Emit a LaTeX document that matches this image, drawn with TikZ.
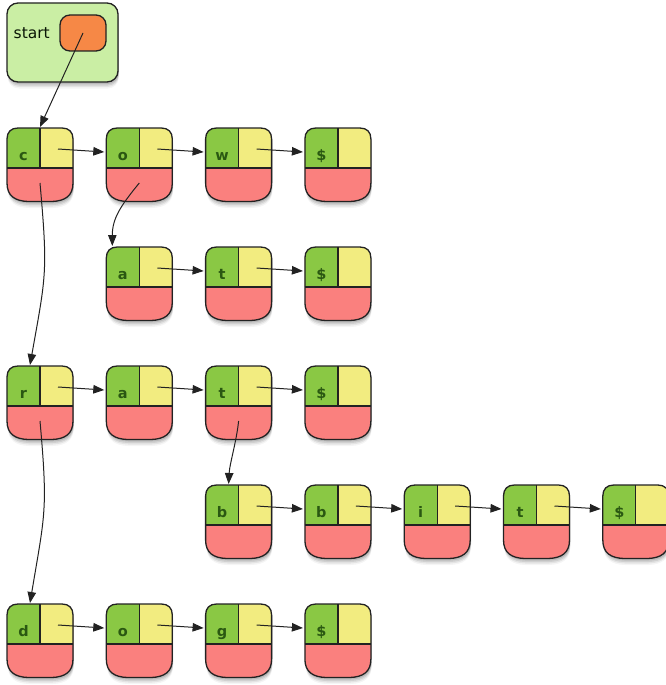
\documentclass[tikz,border=0pt]{standalone}
\usepackage{fontspec}
\usetikzlibrary{arrows.meta}
\newfontfamily\cellfont{DejaVu Sans}
\definecolor{cgreen}{RGB}{138,200,68}
\definecolor{cyellow}{RGB}{242,236,128}
\definecolor{cred}{RGB}{250,128,126}
\definecolor{cstart}{RGB}{202,238,164}
\definecolor{corange}{RGB}{246,136,70}
\definecolor{ctext}{RGB}{42,88,18}
\definecolor{cline}{RGB}{34,34,34}
\newcommand\cellpath{(0,55) -- (0,11) .. controls (0,4) and (4,0) .. (11,0) -- (55,0) .. controls (62,0) and (66,4) .. (66,11) -- (66,55) .. controls (66,68) and (58,73) .. (45,73.5) -- (21,73.5) .. controls (8,73) and (0,68) .. cycle}
\tikzset{
  cellline/.style={draw=cline, line width=1.3pt},
  celltext/.style={font=\cellfont\bfseries\fontsize{14.5}{14.5}\selectfont, text=ctext, anchor=base, inner sep=0pt},
  link/.style={draw=cline, line width=1pt, -{Triangle[length=11pt,width=8.5pt]}},
  cell/.pic={
    \foreach \s/\o in {2/0.10,3.5/0.09,5/0.07,6.5/0.04}{
      \fill[black, opacity=\o, shift={(0.8,\s)}] \cellpath;
    }
    \begin{scope}
      \clip \cellpath;
      \fill[cred] (-1,-1) rectangle (67,75);
      \fill[cgreen] (-1,-1) rectangle (33,40);
      \fill[cyellow] (33,-1) rectangle (67,40);
    \end{scope}
    \draw[cellline] (0,40) -- (66,40) (33,0) -- (33,40);
    \draw[cellline] \cellpath;
    \node[celltext] (-l) at (16.5,32) {#1};
    \coordinate (-y) at (51,21);
    \coordinate (-r) at (33,55);
    \coordinate (-in) at (-2,24);
    \coordinate (-top) at (23,-1);
    \coordinate (-tl) at (6,-1);
    \coordinate (-n) at (33,-1);
  },
  startbox/.style={draw=cline, line width=1.3pt, fill=cstart, rounded corners=11pt, minimum width=111pt, minimum height=79pt, inner sep=0pt},
  ptrbox/.style={draw=cline, line width=1.3pt, fill=corange, rounded corners=10pt, minimum width=46pt, minimum height=36pt, inner sep=0pt},
  startlbl/.style={font=\cellfont\fontsize{15.5}{15.5}\selectfont, text=black!75!ctext, anchor=base west, inner sep=0pt}
}
\begin{document}
\begin{tikzpicture}[x=1pt,y=-1pt]
\useasboundingbox (0,0) rectangle (666,685);
\clip (0,0) rectangle (666,685);
% start box
\foreach \s/\o in {2/0.10,3.5/0.09,5/0.07,6.5/0.04}{
  \fill[black, opacity=\o, rounded corners=11pt] (7.8,3+\s) rectangle (118.8,82+\s);
}
\node[startbox] (start) at (62.5,42.5) {};
\node[startlbl] (lbl) at (13.5,38) {start};
\node[ptrbox] (ptr) at (83,33) {};
% row 1
\pic (c1) at (7,128) {cell=c};
\pic (o1) at (106.3,128) {cell=o};
\pic (w1) at (205.6,128) {cell=w};
\pic (e1) at (304.9,128) {cell=\$};
% row 2
\pic (a2) at (106.3,247) {cell=a};
\pic (t2) at (205.6,247) {cell=t};
\pic (e2) at (304.9,247) {cell=\$};
% row 3
\pic (r3) at (7,366) {cell=r};
\pic (a3) at (106.3,366) {cell=a};
\pic (t3) at (205.6,366) {cell=t};
\pic (e3) at (304.9,366) {cell=\$};
% row 4
\pic (b4) at (205.6,485) {cell=b};
\pic (bb4) at (304.9,485) {cell=b};
\pic (i4) at (404.2,485) {cell=i};
\pic (t4) at (503.5,485) {cell=t};
\pic (e4) at (602.8,485) {cell=\$};
% row 5
\pic (d5) at (7,604) {cell=d};
\pic (o5) at (106.3,604) {cell=o};
\pic (g5) at (205.6,604) {cell=g};
\pic (e5) at (304.9,604) {cell=\$};
% horizontal links
\draw[link] (c1-y) -- (o1-in);
\draw[link] (o1-y) -- (w1-in);
\draw[link] (w1-y) -- (e1-in);
\draw[link] (a2-y) -- (t2-in);
\draw[link] (t2-y) -- (e2-in);
\draw[link] (r3-y) -- (a3-in);
\draw[link] (a3-y) -- (t3-in);
\draw[link] (t3-y) -- (e3-in);
\draw[link] (b4-y) -- (bb4-in);
\draw[link] (bb4-y) -- (i4-in);
\draw[link] (i4-y) -- (t4-in);
\draw[link] (t4-y) -- (e4-in);
\draw[link] (d5-y) -- (o5-in);
\draw[link] (o5-y) -- (g5-in);
\draw[link] (g5-y) -- (e5-in);
% vertical links
\draw[link] (ptr.center) -- (c1-n);
\draw[link] (c1-r) .. controls +(8,90) and +(16,-90) .. (r3-top);
\draw[link] (o1-r) .. controls +(-18,22) and +(0,-28) .. (a2-tl);
\draw[link] (r3-r) .. controls +(8,90) and +(15,-90) .. (d5-top);
\draw[link] (t3-r) .. controls +(-2,20) and +(1,-20) .. (b4-top);
\end{tikzpicture}
\end{document}
